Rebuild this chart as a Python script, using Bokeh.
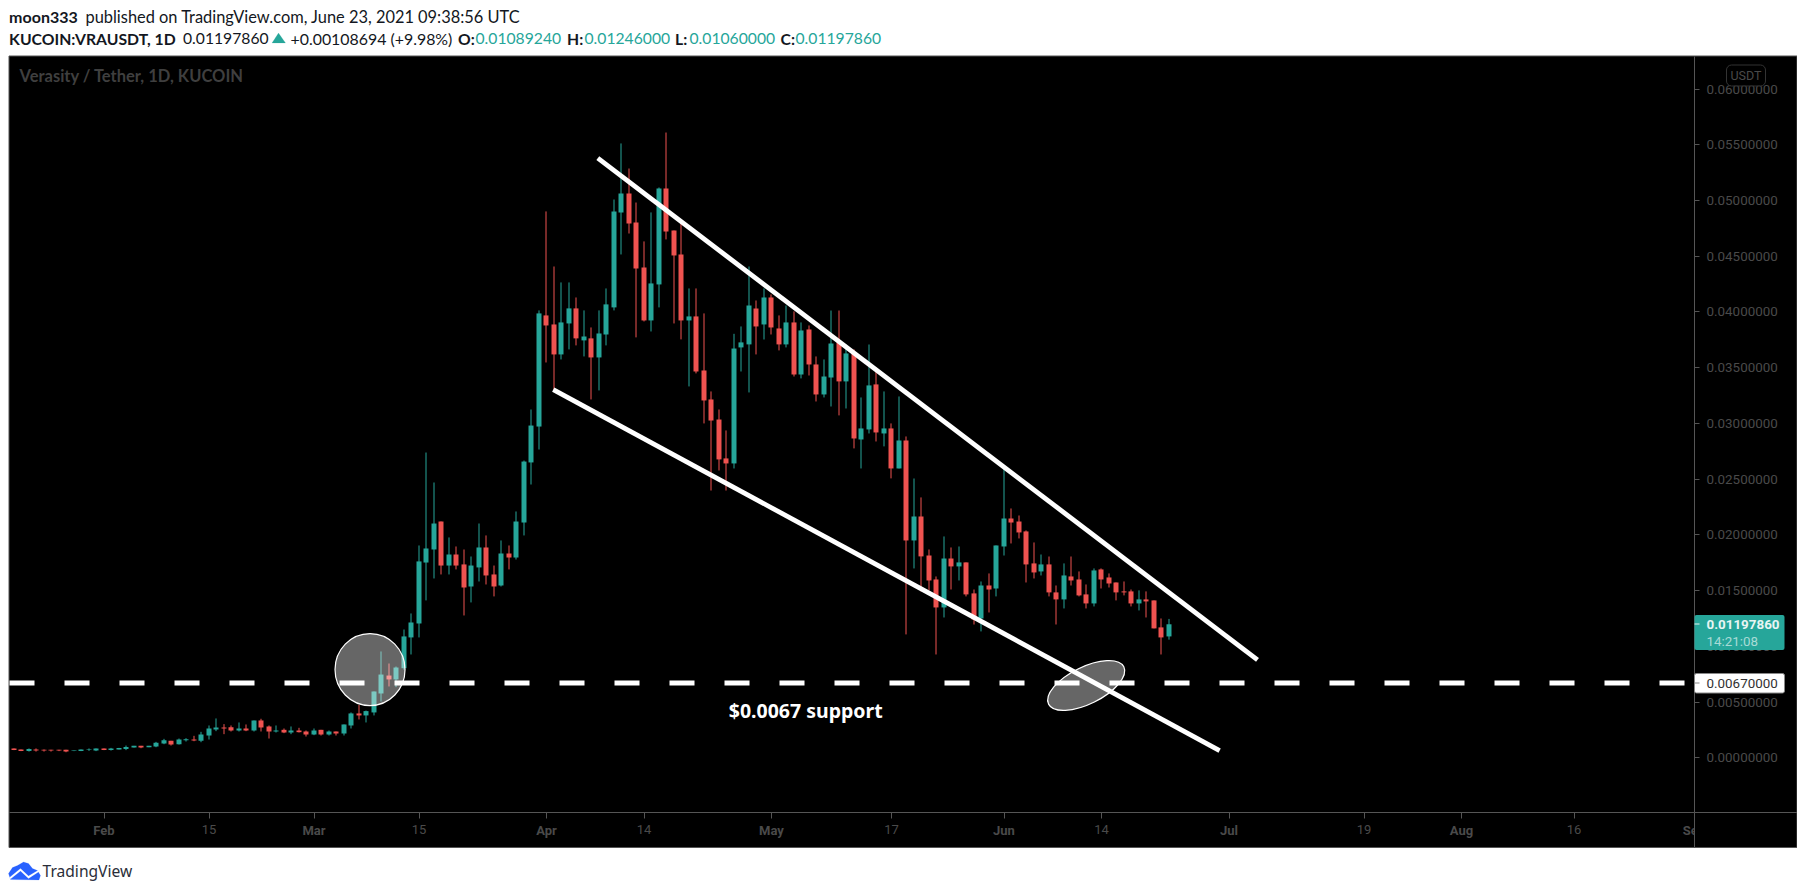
from bokeh.plotting import figure
from bokeh.models import (Range1d, FixedTicker, BoxAnnotation, Label, LabelSet,
                          ColumnDataSource, PolyAnnotation)
from bokeh.core.properties import value
from bokeh.embed import file_html
from bokeh.resources import INLINE

# --- data: daily candles of VRA/USDT, in units of 0.00001 USDT; day 0 = 1 Feb 2021
first_day = -12
open_e5 = [
84,75,60,75,72,72,72,72,60,60,
69,65,84,69,75,80,92,107,95,101,
128,152,122,158,164,152,200,254,272,275,
245,263,245,335,281,236,251,227,245,236,
209,251,209,236,218,290,398,380,407,577,
738,703,804,1080,1205,1752,1869,2120,1725,1824,
1735,1537,1708,1887,1645,1546,1833,1797,2111,2650,
2972,3969,3888,3619,3897,4032,3745,3763,3592,3798,
4041,4893,5063,4803,4399,3924,4247,5108,4731,4516,
3924,3960,3475,3215,3035,2686,2641,3682,3709,4031,
3888,4130,3852,3709,3906,3439,3843,3529,3260,3412,
3726,3377,3628,2856,2946,3350,2910,2955,2596,2847,
1950,2165,1815,1600,1349,1788,1717,1753,1475,1250,
1546,1519,1896,2147,2120,2031,1744,1672,1735,1484,
1421,1627,1600,1466,1385,1690,1618,1573,1493,1493,
1385,1421,1412,1170,1089]
high_e5 = [
84,75,84,84,75,72,72,72,65,75,
84,84,84,89,89,110,107,107,107,143,
170,152,173,176,197,233,290,353,302,290,
317,299,335,350,290,290,263,281,269,245,
263,251,245,236,299,407,475,424,595,954,
846,819,1151,1295,1905,2739,2470,2120,1977,1896,
1869,1806,2102,1995,1725,1950,1905,2210,2667,3125,
4014,4902,4408,4265,4265,4130,4014,3861,4014,4211,
5009,5512,5287,4982,4633,4893,5117,5610,4731,4803,
4211,4211,3987,3287,3125,2937,3804,3870,4408,4103,
4211,4157,3969,4058,4005,3906,3879,3601,3574,4013,
4013,3708,3664,3233,3708,3502,3287,3000,3242,2883,
2506,2336,1869,1627,1986,1887,1896,1753,1510,1582,
1654,1905,2605,2237,2174,2040,1932,1824,1806,1546,
1744,1806,1672,1555,1699,1699,1654,1573,1582,1510,
1502,1493,1412,1250,1246]
low_e5 = [
69,60,56,56,56,56,60,50,60,60,
62,60,69,65,75,69,92,86,95,95,
122,110,119,146,149,140,164,239,212,236,
236,239,236,236,173,227,221,212,227,191,
203,200,200,200,200,263,344,317,380,505,
640,634,790,927,1080,1412,1609,1645,1645,1690,
1277,1394,1582,1555,1448,1537,1690,1779,1995,2452,
2766,3547,3296,3574,3664,3700,3601,3215,3296,3700,
4014,4516,4704,3772,3915,3825,4041,4651,3897,3754,
3332,3449,3000,2398,2578,2398,2596,3466,3278,3619,
3753,3798,3655,3682,3421,3404,3430,3197,3233,3152,
3072,3134,2776,2596,2910,2838,2794,2507,2596,1107,
1699,1493,1502,927,1259,1510,1591,1448,1196,1134,
1304,1448,1815,1923,1968,1573,1609,1636,1448,1196,
1340,1546,1448,1340,1358,1519,1528,1412,1457,1358,
1322,1259,1161,927,1060]
close_e5 = [
69,60,78,65,65,65,65,56,65,75,
75,84,69,84,89,98,107,92,107,134,
158,119,164,167,155,209,263,272,263,245,
263,245,335,272,236,245,227,245,230,209,
245,209,236,218,299,398,380,419,595,747,
703,810,1089,1214,1762,1878,2102,1725,1824,1725,
1528,1725,1887,1636,1537,1833,1797,2120,2658,2981,
3987,3879,3619,3906,4032,3763,3780,3592,3807,4068,
4902,5063,4794,4390,3924,4256,5108,4722,4507,3924,
3960,3466,3206,3026,2677,2641,3672,3727,4058,3870,
4130,3861,3709,3906,3439,3834,3529,3260,3421,3717,
3377,3628,2865,2955,3341,2919,2955,2596,2847,1950,
2165,1807,1591,1349,1788,1717,1753,1466,1241,1546,
1510,1905,2147,2111,2022,1735,1663,1735,1484,1421,
1636,1591,1457,1385,1681,1600,1564,1484,1484,1385,
1421,1403,1161,1080,1198]

month_ticks = {0: "Feb", 28: "Mar", 59: "Apr", 89: "May", 120: "Jun", 150: "Jul", 181: "Aug", 212: "Sep"}
day_ticks = {14: "15", 42: "15", 72: "14", 105: "17", 133: "14", 168: "19", 196: "16"}
price_ticks = [0.005 * i for i in range(13)]

upper_line_days, upper_line_e5 = [65.84, 153.8], [5380, 879]
lower_line_days, lower_line_e5 = [59.9, 148.75], [3304, 65]
support_e5 = 670
last_close = "0.01197860"
support_label = "0.00670000"

assert len(open_e5) == len(high_e5) == len(low_e5) == len(close_e5) == 155

GREEN, RED = "#26a69a", "#ef5350"
GREY_TXT, GREY_LINE = "#4a4a4a", "#555555"
FONT = "Lato"
TICK_FONT = "Roboto"

days = [first_day + i for i in range(len(open_e5))]
# a day is 7.5px wide: odd days are nudged half a pixel so candles sit on the pixel grid
bar_x = [d - (d % 2) / 15 for d in days]
src = ColumnDataSource(dict(
    day=bar_x,
    o=[v * 1e-5 for v in open_e5], h=[v * 1e-5 for v in high_e5],
    l=[v * 1e-5 for v in low_e5], c=[v * 1e-5 for v in close_e5],
    color=[GREEN if c >= o else RED for o, c in zip(open_e5, close_e5)],
))

# one frame over the whole page; the chart panel is a black box inside it
def day_of(px): return (px - 103.5) / 7.5
def price_of(py): return (757.3 - py) * 8.972e-5

W, H = 1797, 886
p = figure(frame_width=W, frame_height=H, min_border=0, y_axis_location="right",
           x_range=Range1d(day_of(0), day_of(W)), y_range=Range1d(price_of(H), price_of(0)),
           output_backend="svg", toolbar_location=None, tools="",
           background_fill_color="white", border_fill_color="white")
p.grid.visible = False
p.outline_line_color = None

def box(l, t, r, b, fill, line=None, level="annotation", alpha=1.0, radius=0):
    bx = BoxAnnotation(left=l, right=r, top=t, bottom=b,
                       left_units="canvas", right_units="canvas", top_units="canvas", bottom_units="canvas",
                       fill_color=fill, fill_alpha=alpha, line_color=line, line_alpha=1.0 if line else 0,
                       level=level, border_radius=radius, editable=False)
    p.add_layout(bx)
    return bx

def label(x, y, text, color, size, bold=False, font=FONT, align="left", alpha=1.0):
    p.add_layout(Label(x=x, y=y, x_units="canvas", y_units="canvas", text=text,
                       text_color=color, text_font=font, text_font_size=f"{size}px",
                       text_font_style="bold" if bold else "normal", text_align=align,
                       text_baseline="middle", text_alpha=alpha))

def poly(pts, color):
    p.add_layout(PolyAnnotation(xs=[a for a, b in pts], ys=[b for a, b in pts],
                                xs_units="canvas", ys_units="canvas", fill_color=color, fill_alpha=1,
                                line_color=color, line_width=0.5, editable=False))

box(8.5, 55.5, 1796.5, 847, "black", GREY_LINE, level="underlay")

# candles
p.segment("day", "h", "day", "l", source=src, color="color", line_width=1)
p.vbar("day", width=5 / 7.5, top="o", bottom="c", source=src, fill_color="color", line_color=None)

# ellipses
p.ellipse([35.47], [792e-5], width=[70], height=[72], width_units="screen", height_units="screen",
          fill_color="white", fill_alpha=0.4, line_color="white", line_width=1.2)
p.ellipse([130.96], [649e-5], width=[84], height=[37], angle=[0.46], width_units="screen", height_units="screen",
          fill_color="white", fill_alpha=0.4, line_color="white", line_width=1.2)

# drawings
p.line([day_of(9), 212.07], [support_e5 * 1e-5] * 2, color="white", line_width=5, line_dash="25 30")
p.line(upper_line_days, [v * 1e-5 for v in upper_line_e5], color="white", line_width=4.8)
p.line(lower_line_days, [v * 1e-5 for v in lower_line_e5], color="white", line_width=4.8)
p.text([83.3], [424e-5], text=["$0.0067 support"], text_color="white", text_font=value("Noto Sans"),
       text_font_size="19.5px", text_font_style="bold", text_baseline="middle")

# time axis
xa = p.xaxis[0]
xa.fixed_location = price_of(812)
xa.bounds = (day_of(8.5), day_of(1796.5))
xa.ticker = FixedTicker(ticks=sorted(list(month_ticks) + list(day_ticks)))
xa.major_label_overrides = {**{k: "" for k in day_ticks}, **month_ticks}
xa.axis_line_color = GREY_LINE
xa.major_tick_line_color = GREY_LINE
xa.major_tick_in = 0
xa.major_tick_out = 6
xa.minor_tick_line_color = None
xa.major_label_text_color = GREY_TXT
xa.major_label_text_font = TICK_FONT
xa.major_label_text_font_size = "13px"
xa.major_label_text_font_style = "bold"
xa.major_label_standoff = 4

p.add_layout(LabelSet(x="d", y="y", text="t", x_units="data", y_units="canvas",
                      source=ColumnDataSource(dict(d=list(day_ticks), y=[829] * len(day_ticks),
                                                   t=list(day_ticks.values()))),
                      text_color=GREY_TXT, text_font=value(TICK_FONT), text_font_size="13px",
                      text_align="center", text_baseline="middle"))

# price axis
ya = p.yaxis[0]
ya.fixed_location = 212.07
ya.bounds = (price_of(847), price_of(55.5))
ya.ticker = FixedTicker(ticks=price_ticks)
ya.major_label_overrides = {t: f"{t:.8f}" for t in price_ticks}
ya.axis_line_color = GREY_LINE
ya.major_tick_line_color = GREY_LINE
ya.major_tick_in = 0
ya.major_tick_out = 5
ya.minor_tick_line_color = None
ya.major_label_text_color = GREY_TXT
ya.major_label_text_font = TICK_FONT
ya.major_label_text_font_size = "13.4px"
ya.major_label_standoff = 7

# mask that cuts the last time label at the price scale
box(1694, 812, 1796.5, 847, "black", GREY_LINE)

# price tags
box(1694, 614.5, 1784, 649.5, GREEN, None, radius=2)
box(1694, 623, 1699, 624, "#e8f5f3")
label(1706, 624, last_close, "#e8f5f3", 13.4, bold=True, font=TICK_FONT)
label(1706, 641, "14:21:08", "#a8dbd6", 13.4, font=TICK_FONT)
box(1694, 673, 1784, 692.5, "white", "#888888", radius=2)
box(1694, 682, 1699, 683, "#888888")
label(1706, 683, support_label, "#333333", 13.4, font=TICK_FONT)

# currency badge
box(1726, 64.5, 1765, 85.5, "black", "#333333", alpha=0.7, radius=5)
label(1745.5, 74.5, "USDT", GREY_TXT, 12.5, font=TICK_FONT, align="center")

# header
label(19, 75.5, "Verasity / Tether, 1D, KUCOIN", "#3f3f3f", 16.5, bold=True)
HD = "#131722"
label(8.6, 16, "moon333", HD, 16, bold=True)
label(85, 16, "published on TradingView.com, June 23, 2021 09:38:56 UTC", HD, 16.4)
label(8.6, 38, "KUCOIN:VRAUSDT, 1D", HD, 15.75, bold=True)
label(182.5, 38, last_close, HD, 15.7)
poly([(278, 32.5), (285, 42.5), (271.5, 42.5)], GREEN)
label(290, 38, "+0.00108694 (+9.98%)", HD, 15.9)
for lx, vx, name, val in [(457.5, 475, "O:", "0.01089240"), (566.6, 584, "H:", "0.01246000"),
                          (674.5, 689, "L:", "0.01060000"), (780, 795, "C:", last_close)]:
    label(lx, 38, name, HD, 15.7, bold=True)
    label(vx, 38, val, GREEN, 15.7)

# footer logo
poly([(10, 879), (8, 873), (12, 867), (17, 865), (23, 861.5), (28, 863), (32, 868), (37, 870),
      (40, 875), (38.5, 879.5)], "#2962ff")
poly([(9, 877), (20, 868), (28, 875.5), (39, 869), (39.5, 870.5), (28, 878), (20, 870.5), (10, 878.5)], "white")
label(42, 870.5, "TradingView", "#2a2e39", 15.6, font="Noto Sans")

open("out.html", "w").write(file_html(p, INLINE))
